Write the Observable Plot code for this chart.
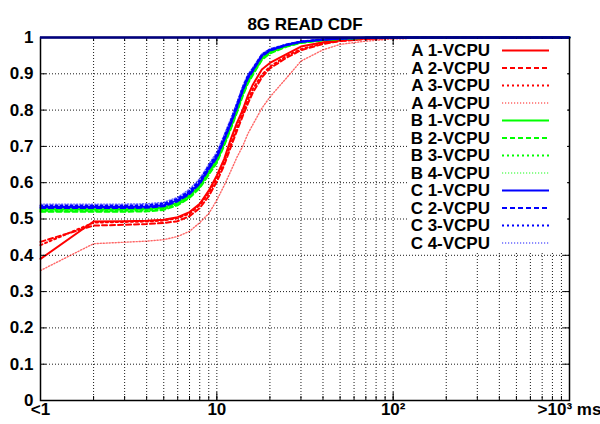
<!DOCTYPE html>
<html>
<head>
<meta charset="utf-8">
<script src="https://cdn.jsdelivr.net/npm/d3@7"></script>
<script src="https://cdn.jsdelivr.net/npm/@observablehq/plot@0.6"></script>
<style>
  html, body { margin: 0; padding: 0; background: #fff; }
  #chart { width: 600px; height: 424px; }
</style>
</head>
<body>
<div id="chart"></div>
<script>
// ---- data ----
const title = "8G READ CDF";
const xs = [1,2,3,4,5,6,7,8,9,10,11,12,13,14,15,16,18,20,25,30,40,50,70,100,200,500,1000];
const A1 = [0.390,0.493,0.494,0.495,0.498,0.505,0.519,0.542,0.578,0.620,0.665,0.720,0.765,0.800,0.840,0.870,0.912,0.930,0.955,0.975,0.987,0.993,0.997,0.999,1,1,1];
const A2 = [0.437,0.482,0.484,0.486,0.489,0.494,0.508,0.530,0.563,0.603,0.648,0.698,0.743,0.783,0.818,0.848,0.890,0.915,0.945,0.965,0.982,0.990,0.996,0.999,1,1,1];
const A3 = [0.428,0.490,0.492,0.493,0.496,0.502,0.515,0.538,0.572,0.612,0.656,0.706,0.752,0.790,0.828,0.858,0.897,0.920,0.950,0.968,0.984,0.991,0.996,0.999,1,1,1];
const A4 = [0.358,0.432,0.436,0.439,0.443,0.452,0.466,0.490,0.515,0.552,0.592,0.632,0.670,0.700,0.735,0.760,0.805,0.836,0.890,0.935,0.966,0.981,0.990,0.996,0.999,1,1];
const B1 = [0.527,0.527,0.527,0.528,0.532,0.545,0.565,0.592,0.630,0.662,0.710,0.755,0.800,0.845,0.880,0.902,0.943,0.960,0.978,0.987,0.993,0.996,0.999,1,1,1,1];
const B2 = [0.520,0.520,0.520,0.521,0.525,0.538,0.558,0.585,0.622,0.655,0.702,0.748,0.793,0.838,0.873,0.897,0.938,0.956,0.975,0.985,0.992,0.996,0.999,1,1,1,1];
const B3 = [0.523,0.523,0.523,0.524,0.528,0.541,0.561,0.588,0.626,0.659,0.706,0.752,0.797,0.842,0.877,0.900,0.941,0.958,0.977,0.986,0.993,0.996,0.999,1,1,1,1];
const B4 = [0.525,0.525,0.525,0.526,0.530,0.543,0.563,0.590,0.628,0.661,0.708,0.754,0.799,0.844,0.879,0.901,0.942,0.959,0.978,0.987,0.993,0.996,0.999,1,1,1,1];
const C1 = [0.533,0.533,0.533,0.534,0.538,0.552,0.572,0.600,0.640,0.672,0.720,0.765,0.810,0.855,0.890,0.910,0.950,0.965,0.980,0.988,0.994,0.997,0.999,1,1,1,1];
const C2 = [0.530,0.530,0.530,0.531,0.535,0.549,0.569,0.597,0.637,0.669,0.717,0.762,0.807,0.852,0.887,0.908,0.948,0.964,0.979,0.988,0.994,0.997,0.999,1,1,1,1];
const C3 = [0.537,0.537,0.537,0.538,0.542,0.556,0.577,0.606,0.646,0.678,0.726,0.771,0.816,0.861,0.895,0.914,0.953,0.967,0.981,0.989,0.995,0.997,0.999,1,1,1,1];
const C4 = [0.541,0.541,0.541,0.542,0.546,0.560,0.582,0.611,0.651,0.684,0.732,0.777,0.822,0.866,0.899,0.917,0.955,0.969,0.982,0.990,0.995,0.998,0.999,1,1,1,1];
const seriesNames = ["A 1-VCPU","A 2-VCPU","A 3-VCPU","A 4-VCPU","B 1-VCPU","B 2-VCPU","B 3-VCPU","B 4-VCPU","C 1-VCPU","C 2-VCPU","C 3-VCPU","C 4-VCPU"];
const seriesValues = [A1,A2,A3,A4,B1,B2,B3,B4,C1,C2,C3,C4];
const yTicks = [0,0.1,0.2,0.3,0.4,0.5,0.6,0.7,0.8,0.9,1];
const yTickLabels = ["0","0.1","0.2","0.3","0.4","0.5","0.6","0.7","0.8","0.9","1"];
const xTicks = [1,10,100,1000];
const xTickLabels = ["<1","10","10\u00B2",">10\u00B3 ms"];
const xGrid = [2,3,4,5,6,7,8,9,10,20,30,40,50,60,70,80,90,100,200,300,400,500,600,700,800,900];

// ---- styles ----
const groupColor = {A: "#ff0000", B: "#00ff00", C: "#0000ff"};
const variantStyle = {
  "1": {dash: null, width: 2, opacity: 1},
  "2": {dash: "5,3", width: 2, opacity: 1},
  "3": {dash: "2,3", width: 2, opacity: 1},
  "4": {dash: "1.2,1.8", width: 1.4, opacity: 0.6}
};
function styleOf(name) {
  const v = variantStyle[name[2]];
  return {stroke: groupColor[name[0]], strokeDasharray: v.dash, strokeWidth: v.width, strokeOpacity: v.opacity};
}

// ---- table ----
const rows = [];
seriesNames.forEach((n, si) => xs.forEach((x, i) => rows.push({series: n, x, y: seriesValues[si][i]})));

const W = 600, H = 424, mL = 40, mR = 31, mT = 37, mB = 24;
const fw = W - mL - mR, fh = H - mT - mB;
const font = "'Liberation Sans', Arial, Helvetica, sans-serif";
const yLabel = new Map(yTicks.map((t, i) => [t, yTickLabels[i]]));
const xLabel = new Map(xTicks.map((t, i) => [t, xTickLabels[i]]));
const gridStyle = {stroke: "#000", strokeOpacity: 0.9, strokeDasharray: "1,2", strokeWidth: 1};

const marks = [
  Plot.gridX(xGrid, gridStyle),
  Plot.gridY(yTicks.filter(t => t > 0 && t < 1), gridStyle),
  ...seriesNames.map(n => Plot.line(rows.filter(r => r.series === n), {x: "x", y: "y", ...styleOf(n)})),
  Plot.frame({stroke: "#000", strokeWidth: 1.5}),
  Plot.tickY(yTicks, {y: d => d, insetRight: fw - 6, stroke: "#000", strokeWidth: 1}),
  Plot.tickY(yTicks, {y: d => d, insetLeft: fw - 6, stroke: "#000", strokeWidth: 1}),
  Plot.tickX(xTicks, {x: d => d, insetTop: fh - 8, stroke: "#000", strokeWidth: 1}),
  Plot.tickX(xTicks, {x: d => d, insetBottom: fh - 8, stroke: "#000", strokeWidth: 1}),
  Plot.tickX(xGrid, {x: d => d, insetTop: fh - 4, stroke: "#000", strokeWidth: 1}),
  Plot.tickX(xGrid, {x: d => d, insetBottom: fh - 4, stroke: "#000", strokeWidth: 1}),
  Plot.ruleY([1], {stroke: "#000080", strokeWidth: 2.5}),
  Plot.axisY({ticks: yTicks, label: null, tickSize: 0, tickPadding: 7, tickFormat: d => yLabel.get(d), fontSize: 17, fontWeight: "bold", fill: "#000"}),
  Plot.axisX({ticks: xTicks, label: null, tickSize: 0, tickPadding: 2, tickFormat: d => xLabel.get(d), fontSize: 17, fontWeight: "bold", fill: "#000"}),
  Plot.text([title], {frameAnchor: "top", dy: -20, fontSize: 17, fontWeight: "bold", fill: "#000"})
];

const chart = Plot.plot({
  width: W, height: H,
  marginLeft: mL, marginRight: mR, marginTop: mT, marginBottom: mB,
  x: {type: "log", domain: [1, 1000]},
  y: {domain: [0, 1]},
  style: {fontFamily: font, fontSize: "17px", fontWeight: "bold", background: "#fff", overflow: "visible"},
  marks
});
document.getElementById("chart").appendChild(chart);

// ---- legend (inside plot, top-right) ----
const svg = d3.select(chart);
const lg = svg.insert("g", "g[aria-label=frame]").attr("class", "legend");
lg.append("rect").attr("x", 407).attr("y", 39).attr("width", 160).attr("height", 213).attr("fill", "#fff");
seriesNames.forEach((n, i) => {
  const y = 50.5 + i * 17.5;
  const s = styleOf(n);
  lg.append("text").attr("x", 490).attr("y", y).attr("dy", "0.35em").attr("text-anchor", "end")
    .attr("font-family", font).attr("font-size", 17).attr("font-weight", "bold").attr("fill", "#000").text(n);
  lg.append("line").attr("x1", 502).attr("x2", 549).attr("y1", y).attr("y2", y)
    .attr("stroke", s.stroke).attr("stroke-width", s.strokeWidth).attr("stroke-opacity", s.strokeOpacity)
    .attr("stroke-dasharray", s.strokeDasharray);
});
</script>
</body>
</html>
